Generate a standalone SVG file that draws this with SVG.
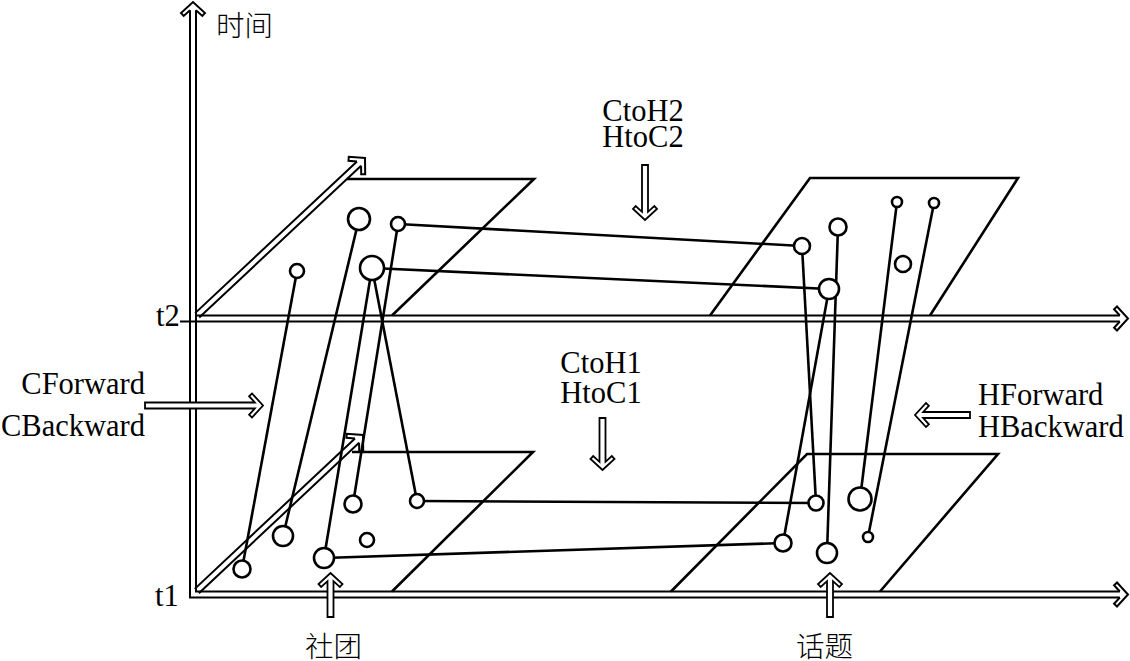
<svg xmlns="http://www.w3.org/2000/svg" xmlns:xlink="http://www.w3.org/1999/xlink" width="1130" height="661" viewBox="0 0 1130 661">
<defs>
<style>
.ax{fill:none;stroke:#000;stroke-width:2}
.pl{fill:none;stroke:#000;stroke-width:2.6}
.cn line{stroke:#000;stroke-width:2.6}
.nd{fill:#fff;stroke:#000;stroke-width:2.6}
.wa{fill:#fff;stroke:#000;stroke-width:1.8;stroke-linejoin:miter}
.lt{font-family:"Liberation Serif","Times New Roman",serif;font-size:30.5px;fill:#000}
.cj{font-family:"Liberation Serif","Noto Sans CJK SC",serif;font-size:28.5px;font-weight:300;fill:#000}
</style>
<path id="ah" d="M-8.2,-3 L-13.9,-9.3 L-11,-12 L0,0 L-11,12 L-13.9,9.3 L-8.2,3"/>
</defs>
<rect width="1130" height="661" fill="#fff"/>

<g id="axes" class="ax">
<path d="M190,10.2 V597.5 H1119.8"/>
<path d="M196,10.2 V591.5 H1119.8"/>
<use xlink:href="#ah" transform="translate(193,2) rotate(-90)"/>
<use xlink:href="#ah" transform="translate(1128,594.5)"/>
<path d="M196,315.5 H1119.8 M180,321.5 H1119.8"/>
<use xlink:href="#ah" transform="translate(1128,318.5)"/>
<g transform="translate(365,158) rotate(-43.15)"><path d="M-230,-3 H-8.2 M-230,3 H-8.2"/><use xlink:href="#ah"/></g>
<g transform="translate(363,435) rotate(-43.2)"><path d="M-228,-3 H-8.2 M-228,3 H-8.2"/><use xlink:href="#ah"/></g>
</g>

<g id="planes" class="pl">
<path d="M347,179 H534 L392,315.5"/>
<path d="M710,315.5 L810,178 H1018 L930,315.5"/>
<path d="M352,452 H533 L392,591.5"/>
<path d="M671,591.5 L807,454 H998 L880,591.5"/>
</g>

<g id="connectors" class="cn">
<line x1="297" y1="271" x2="242" y2="569"/>
<line x1="359" y1="219" x2="283" y2="536"/>
<line x1="398" y1="224" x2="353" y2="504"/>
<line x1="372" y1="268" x2="324" y2="558"/>
<line x1="372" y1="268" x2="417" y2="501"/>
<line x1="398" y1="224" x2="802" y2="246"/>
<line x1="372" y1="268" x2="829" y2="289"/>
<line x1="417" y1="501" x2="816" y2="503"/>
<line x1="324" y1="558" x2="783" y2="543"/>
<line x1="802" y1="246" x2="816" y2="503"/>
<line x1="838" y1="227" x2="827" y2="553"/>
<line x1="829" y1="289" x2="783" y2="543"/>
<line x1="897" y1="202" x2="860" y2="499"/>
<line x1="934" y1="203" x2="868" y2="537"/>
</g>

<g id="n1"><circle class="nd" cx="359" cy="219" r="11"/></g>
<g id="n2"><circle class="nd" cx="398" cy="224" r="7"/></g>
<g id="n3"><circle class="nd" cx="297" cy="271" r="7"/></g>
<g id="n4"><circle class="nd" cx="372" cy="268" r="12"/></g>
<g id="n5"><circle class="nd" cx="802" cy="246" r="8"/></g>
<g id="n6"><circle class="nd" cx="838" cy="227" r="8.5"/></g>
<g id="n7"><circle class="nd" cx="897" cy="202" r="5"/></g>
<g id="n8"><circle class="nd" cx="934" cy="203" r="5"/></g>
<g id="n9"><circle class="nd" cx="903" cy="264" r="8"/></g>
<g id="n10"><circle class="nd" cx="829" cy="289" r="10"/></g>
<g id="n11"><circle class="nd" cx="242" cy="569" r="8.5"/></g>
<g id="n12"><circle class="nd" cx="283" cy="536" r="10"/></g>
<g id="n13"><circle class="nd" cx="353" cy="504" r="8.5"/></g>
<g id="n14"><circle class="nd" cx="417" cy="501" r="7"/></g>
<g id="n15"><circle class="nd" cx="367" cy="540" r="7"/></g>
<g id="n16"><circle class="nd" cx="324" cy="558" r="10"/></g>
<g id="n17"><circle class="nd" cx="816" cy="503" r="7.5"/></g>
<g id="n18"><circle class="nd" cx="783" cy="543" r="8.5"/></g>
<g id="n19"><circle class="nd" cx="827" cy="553" r="10"/></g>
<g id="n20"><circle class="nd" cx="860" cy="499" r="11.5"/></g>
<g id="n21"><circle class="nd" cx="868" cy="537" r="5"/></g>

<g id="label-arrows" class="wa">
<path transform="translate(263,405.5)" d="M-118,-3 H-8.2 L-13.9,-9.3 L-11,-12 L0,0 L-11,12 L-13.9,9.3 L-8.2,3 H-118 Z"/>
<path transform="translate(915,415) rotate(180)" d="M-55,-3 H-8.2 L-13.9,-9.3 L-11,-12 L0,0 L-11,12 L-13.9,9.3 L-8.2,3 H-55 Z"/>
<path transform="translate(645,220) rotate(90)" d="M-55,-3 H-8.2 L-13.9,-9.3 L-11,-12 L0,0 L-11,12 L-13.9,9.3 L-8.2,3 H-55 Z"/>
<path transform="translate(602.5,470) rotate(90)" d="M-52,-3 H-8.2 L-13.9,-9.3 L-11,-12 L0,0 L-11,12 L-13.9,9.3 L-8.2,3 H-52 Z"/>
<path transform="translate(330.5,573) rotate(-90)" d="M-44,-3 H-8.2 L-13.9,-9.3 L-11,-12 L0,0 L-11,12 L-13.9,9.3 L-8.2,3 H-44 Z"/>
<path transform="translate(830,573) rotate(-90)" d="M-44,-3 H-8.2 L-13.9,-9.3 L-11,-12 L0,0 L-11,12 L-13.9,9.3 L-8.2,3 H-44 Z"/>
</g>

<g id="labels">
<text class="cj" x="216" y="36">时间</text>
<text class="lt" x="156" y="326">t2</text>
<text class="lt" x="155" y="606">t1</text>
<text class="lt" x="145" y="394" text-anchor="end">CForward</text>
<text class="lt" x="145" y="436" text-anchor="end">CBackward</text>
<text class="lt" x="978" y="405">HForward</text>
<text class="lt" x="978" y="437">HBackward</text>
<text class="lt" x="643" y="121" text-anchor="middle">CtoH2</text>
<text class="lt" x="643" y="147" text-anchor="middle">HtoC2</text>
<text class="lt" x="601" y="373" text-anchor="middle">CtoH1</text>
<text class="lt" x="601" y="403" text-anchor="middle">HtoC1</text>
<text class="cj" x="305" y="657">社团</text>
<text class="cj" x="796" y="657">话题</text>
</g>
</svg>
